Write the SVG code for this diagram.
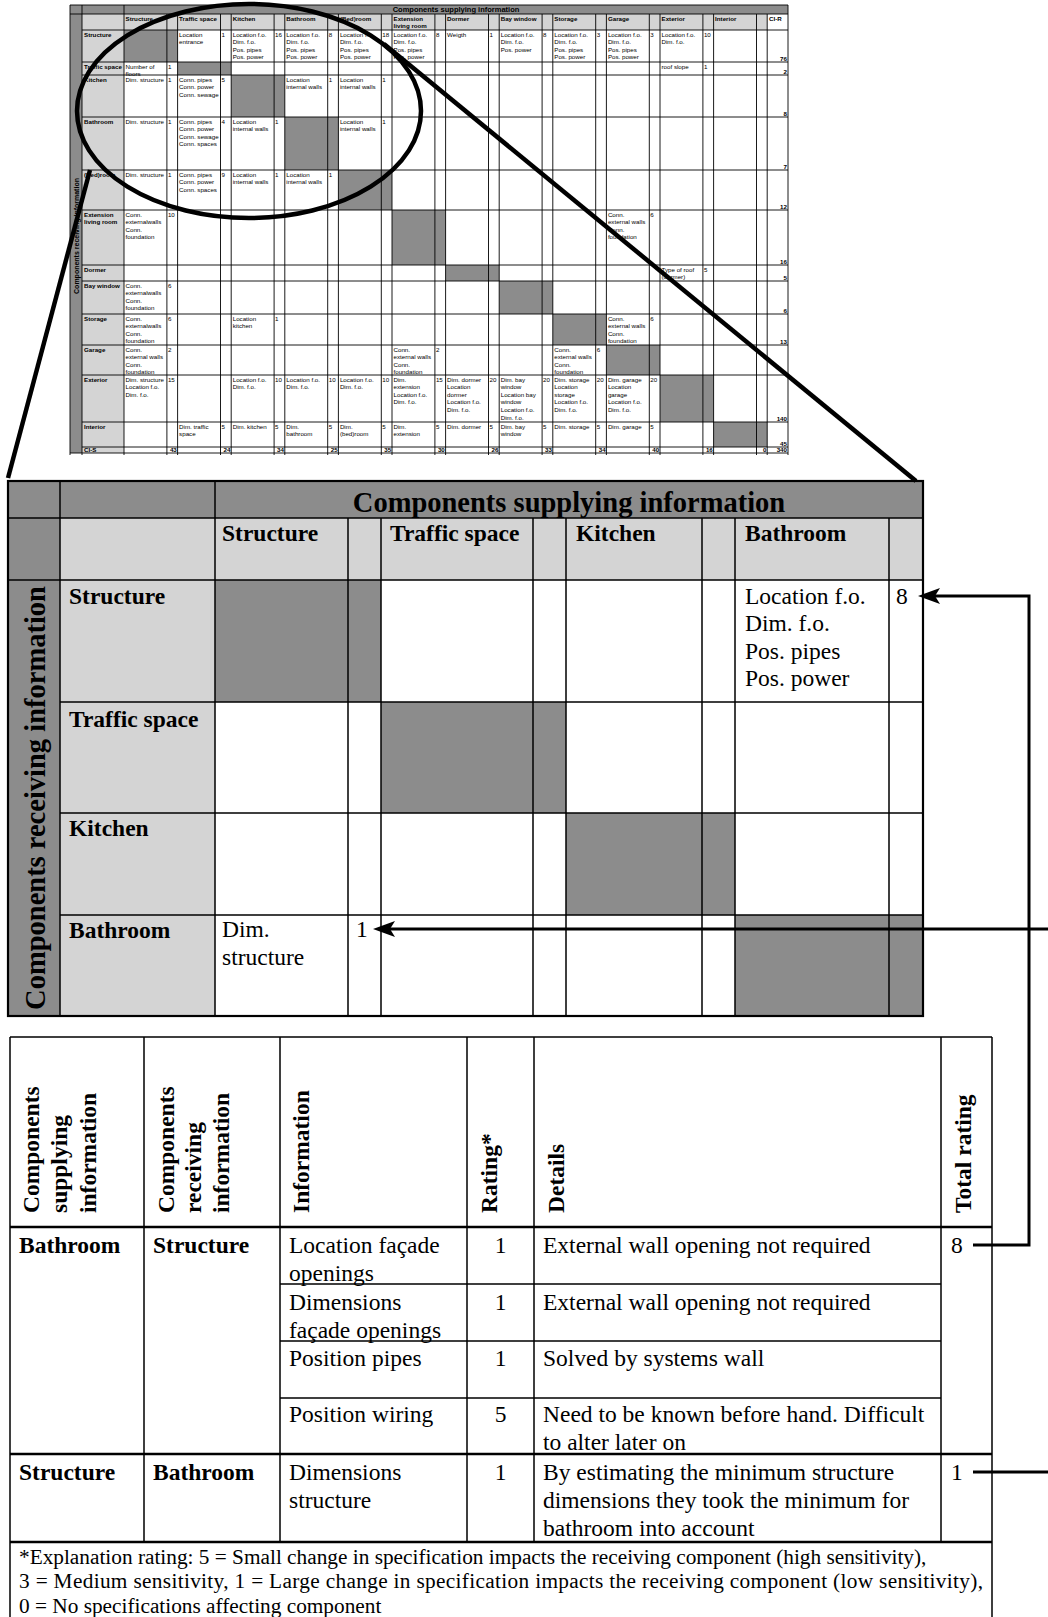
<svg xmlns="http://www.w3.org/2000/svg" width="1048" height="1617" viewBox="0 0 1048 1617">
<style>
.g{fill:#8c8c8c}
.l{fill:#d4d4d4}
.s{font-family:"Liberation Sans",Arial,sans-serif;font-size:6.2px;fill:#000}
.sb{font-family:"Liberation Sans",Arial,sans-serif;font-size:6.2px;font-weight:bold;fill:#000}
.st{font-family:"Liberation Sans",Arial,sans-serif;font-size:7.5px;font-weight:bold;fill:#000}
.t{font-family:"Liberation Serif","Times New Roman",serif;font-size:23.5px;fill:#000}
.tb{font-family:"Liberation Serif","Times New Roman",serif;font-size:23.5px;font-weight:bold;fill:#000}
.tt{font-family:"Liberation Serif","Times New Roman",serif;font-size:28.5px;font-weight:bold;fill:#000}
.fn{font-family:"Liberation Serif","Times New Roman",serif;font-size:21.3px;fill:#000}
.gl{stroke:#000;stroke-width:0.9;fill:none}
.bl{stroke:#000;stroke-width:1.5;fill:none}
.thk{stroke:#000;stroke-width:2.6;fill:none}
.zoom{stroke:#000;stroke-width:4.5;fill:none}
.arr{stroke:#000;stroke-width:3;fill:none}
</style>
<defs>
<marker id="ah" markerWidth="24" markerHeight="18" refX="16" refY="9" orient="auto" markerUnits="userSpaceOnUse">
<path d="M0,1 L22,9 L0,17 L5,9 z" fill="#000"/>
</marker>
</defs>
<rect width="1048" height="1617" fill="#fff"/>

<g id="small-matrix">
<rect class="g" x="70" y="5" width="718" height="9"/>
<rect class="g" x="70" y="14" width="12" height="439"/>
<rect class="l" x="82" y="14" width="685.2" height="16"/>
<rect class="l" x="82" y="30" width="42" height="423"/>
<rect class="g" x="124" y="30" width="53.6" height="32"/>
<rect class="g" x="177.6" y="62" width="53.6" height="13"/>
<rect class="g" x="231.2" y="75" width="53.6" height="42"/>
<rect class="g" x="284.8" y="117" width="53.6" height="53"/>
<rect class="g" x="338.4" y="170" width="53.6" height="40"/>
<rect class="g" x="392" y="210" width="53.6" height="55"/>
<rect class="g" x="445.6" y="265" width="53.6" height="16"/>
<rect class="g" x="499.2" y="281" width="53.6" height="33"/>
<rect class="g" x="552.8" y="314" width="53.6" height="31"/>
<rect class="g" x="606.4" y="345" width="53.6" height="30"/>
<rect class="g" x="660" y="375" width="53.6" height="47"/>
<rect class="g" x="713.6" y="422" width="53.6" height="25"/>
<path class="gl" d="M70,5H788M70,14H788M82,30H788M82,62H788M82,75H788M82,117H788M82,170H788M82,210H788M82,265H788M82,281H788M82,314H788M82,345H788M82,375H788M82,422H788M82,447H788M70,453H788M70,5V455M82,5V455M124,5V455M788,5V455M177.6,14V455M231.2,14V455M284.8,14V455M338.4,14V455M392,14V455M445.6,14V455M499.2,14V455M552.8,14V455M606.4,14V455M660,14V455M713.6,14V455M767.2,14V455M166.9,14V455M220.5,14V455M274.1,14V455M327.7,14V455M381.3,14V455M434.9,14V455M488.5,14V455M542.1,14V455M595.7,14V455M649.3,14V455M702.9,14V455M756.5,14V455"/>
<text class="st" x="456" y="12.3" text-anchor="middle">Components supplying information</text>
<text class="sb" style="font-size:7px" transform="translate(78.5,236) rotate(-90)" text-anchor="middle">Components receiving information</text>
<g class="sb">
<text x="125.5" y="20.5">Structure</text>
<text x="179.1" y="20.5">Traffic space</text>
<text x="232.7" y="20.5">Kitchen</text>
<text x="286.3" y="20.5">Bathroom</text>
<text x="339.9" y="20.5">(Bed)room</text>
<text x="393.5" y="20.5">Extension<tspan x="393.5" dy="7.6">living room</tspan></text>
<text x="447.1" y="20.5">Dormer</text>
<text x="500.7" y="20.5">Bay window</text>
<text x="554.3" y="20.5">Storage</text>
<text x="607.9" y="20.5">Garage</text>
<text x="661.5" y="20.5">Exterior</text>
<text x="715.1" y="20.5">Interior</text>
<text x="769" y="20.5">CI-R</text>
<text x="84" y="36.5">Structure</text>
<text x="84" y="68.5">Traffic space</text>
<text x="84" y="81.5">Kitchen</text>
<text x="84" y="123.5">Bathroom</text>
<text x="84" y="176.5">(Bed)room</text>
<text x="84" y="216.5">Extension<tspan x="84" dy="7.6">living room</tspan></text>
<text x="84" y="271.5">Dormer</text>
<text x="84" y="287.5">Bay window</text>
<text x="84" y="320.5">Storage</text>
<text x="84" y="351.5">Garage</text>
<text x="84" y="381.5">Exterior</text>
<text x="84" y="428.5">Interior</text>
<text x="84" y="452.3">CI-S</text>
</g>
<g class="sb" text-anchor="end">
<text x="787" y="60.5">76</text>
<text x="787" y="73.5">2</text>
<text x="787" y="115.5">8</text>
<text x="787" y="168.5">7</text>
<text x="787" y="208.5">12</text>
<text x="787" y="263.5">16</text>
<text x="787" y="279.5">5</text>
<text x="787" y="312.5">6</text>
<text x="787" y="343.5">13</text>
<text x="787" y="420.5">140</text>
<text x="787" y="445.5">45</text>
<text x="176.8" y="452.3">43</text>
<text x="230.4" y="452.3">24</text>
<text x="284" y="452.3">34</text>
<text x="337.6" y="452.3">25</text>
<text x="391.2" y="452.3">35</text>
<text x="444.8" y="452.3">30</text>
<text x="498.4" y="452.3">26</text>
<text x="552" y="452.3">33</text>
<text x="605.6" y="452.3">34</text>
<text x="659.2" y="452.3">40</text>
<text x="712.8" y="452.3">16</text>
<text x="766.4" y="452.3">0</text>
<text x="787" y="452.3">340</text>
</g>
<g class="s">
<text x="179.1" y="36.5">Location<tspan x="179.1" dy="7.6">entrance</tspan></text><text x="221.5" y="36.5">1</text>
<text x="232.7" y="36.5">Location f.o.<tspan x="232.7" dy="7.6">Dim. f.o.</tspan><tspan x="232.7" dy="7.6">Pos. pipes</tspan><tspan x="232.7" dy="7.6">Pos. power</tspan></text><text x="275.1" y="36.5">16</text>
<text x="286.3" y="36.5">Location f.o.<tspan x="286.3" dy="7.6">Dim. f.o.</tspan><tspan x="286.3" dy="7.6">Pos. pipes</tspan><tspan x="286.3" dy="7.6">Pos. power</tspan></text><text x="328.7" y="36.5">8</text>
<text x="339.9" y="36.5">Location f.o.<tspan x="339.9" dy="7.6">Dim. f.o.</tspan><tspan x="339.9" dy="7.6">Pos. pipes</tspan><tspan x="339.9" dy="7.6">Pos. power</tspan></text><text x="382.3" y="36.5">18</text>
<text x="393.5" y="36.5">Location f.o.<tspan x="393.5" dy="7.6">Dim. f.o.</tspan><tspan x="393.5" dy="7.6">Pos. pipes</tspan><tspan x="393.5" dy="7.6">Pos. power</tspan></text><text x="435.9" y="36.5">8</text>
<text x="447.1" y="36.5">Weigth</text><text x="489.5" y="36.5">1</text>
<text x="500.7" y="36.5">Location f.o.<tspan x="500.7" dy="7.6">Dim. f.o.</tspan><tspan x="500.7" dy="7.6">Pos. power</tspan></text><text x="543.1" y="36.5">8</text>
<text x="554.3" y="36.5">Location f.o.<tspan x="554.3" dy="7.6">Dim. f.o.</tspan><tspan x="554.3" dy="7.6">Pos. pipes</tspan><tspan x="554.3" dy="7.6">Pos. power</tspan></text><text x="596.7" y="36.5">3</text>
<text x="607.9" y="36.5">Location f.o.<tspan x="607.9" dy="7.6">Dim. f.o.</tspan><tspan x="607.9" dy="7.6">Pos. pipes</tspan><tspan x="607.9" dy="7.6">Pos. power</tspan></text><text x="650.3" y="36.5">3</text>
<text x="661.5" y="36.5">Location f.o.<tspan x="661.5" dy="7.6">Dim. f.o.</tspan></text><text x="703.9" y="36.5">10</text>
<text x="125.5" y="68.5">Number of<tspan x="125.5" dy="7.6">floors</tspan></text><text x="167.9" y="68.5">1</text>
<text x="661.5" y="68.5">roof slope</text><text x="703.9" y="68.5">1</text>
<text x="125.5" y="81.5">Dim. structure</text><text x="167.9" y="81.5">1</text>
<text x="179.1" y="81.5">Conn. pipes<tspan x="179.1" dy="7.6">Conn. power</tspan><tspan x="179.1" dy="7.6">Conn. sewage</tspan></text><text x="221.5" y="81.5">5</text>
<text x="286.3" y="81.5">Location<tspan x="286.3" dy="7.6">internal walls</tspan></text><text x="328.7" y="81.5">1</text>
<text x="339.9" y="81.5">Location<tspan x="339.9" dy="7.6">internal walls</tspan></text><text x="382.3" y="81.5">1</text>
<text x="125.5" y="123.5">Dim. structure</text><text x="167.9" y="123.5">1</text>
<text x="179.1" y="123.5">Conn. pipes<tspan x="179.1" dy="7.6">Conn. power</tspan><tspan x="179.1" dy="7.6">Conn. sewage</tspan><tspan x="179.1" dy="7.6">Conn. spaces</tspan></text><text x="221.5" y="123.5">4</text>
<text x="232.7" y="123.5">Location<tspan x="232.7" dy="7.6">internal walls</tspan></text><text x="275.1" y="123.5">1</text>
<text x="339.9" y="123.5">Location<tspan x="339.9" dy="7.6">internal walls</tspan></text><text x="382.3" y="123.5">1</text>
<text x="125.5" y="176.5">Dim. structure</text><text x="167.9" y="176.5">1</text>
<text x="179.1" y="176.5">Conn. pipes<tspan x="179.1" dy="7.6">Conn. power</tspan><tspan x="179.1" dy="7.6">Conn. spaces</tspan></text><text x="221.5" y="176.5">9</text>
<text x="232.7" y="176.5">Location<tspan x="232.7" dy="7.6">internal walls</tspan></text><text x="275.1" y="176.5">1</text>
<text x="286.3" y="176.5">Location<tspan x="286.3" dy="7.6">internal walls</tspan></text><text x="328.7" y="176.5">1</text>
<text x="125.5" y="216.5">Conn.<tspan x="125.5" dy="7.6">externalwalls</tspan><tspan x="125.5" dy="7.6">Conn.</tspan><tspan x="125.5" dy="7.6">foundation</tspan></text><text x="167.9" y="216.5">10</text>
<text x="607.9" y="216.5">Conn.<tspan x="607.9" dy="7.6">external walls</tspan><tspan x="607.9" dy="7.6">Conn.</tspan><tspan x="607.9" dy="7.6">foundation</tspan></text><text x="650.3" y="216.5">6</text>
<text x="661.5" y="271.5">Type of roof<tspan x="661.5" dy="7.6">(dormer)</tspan></text><text x="703.9" y="271.5">5</text>
<text x="125.5" y="287.5">Conn.<tspan x="125.5" dy="7.6">externalwalls</tspan><tspan x="125.5" dy="7.6">Conn.</tspan><tspan x="125.5" dy="7.6">foundation</tspan></text><text x="167.9" y="287.5">6</text>
<text x="125.5" y="320.5">Conn.<tspan x="125.5" dy="7.6">externalwalls</tspan><tspan x="125.5" dy="7.6">Conn.</tspan><tspan x="125.5" dy="7.6">foundation</tspan></text><text x="167.9" y="320.5">6</text>
<text x="232.7" y="320.5">Location<tspan x="232.7" dy="7.6">kitchen</tspan></text><text x="275.1" y="320.5">1</text>
<text x="607.9" y="320.5">Conn.<tspan x="607.9" dy="7.6">external walls</tspan><tspan x="607.9" dy="7.6">Conn.</tspan><tspan x="607.9" dy="7.6">foundation</tspan></text><text x="650.3" y="320.5">6</text>
<text x="125.5" y="351.5">Conn.<tspan x="125.5" dy="7.6">external walls</tspan><tspan x="125.5" dy="7.6">Conn.</tspan><tspan x="125.5" dy="7.6">foundation</tspan></text><text x="167.9" y="351.5">2</text>
<text x="393.5" y="351.5">Conn.<tspan x="393.5" dy="7.6">external walls</tspan><tspan x="393.5" dy="7.6">Conn.</tspan><tspan x="393.5" dy="7.6">foundation</tspan></text><text x="435.9" y="351.5">2</text>
<text x="554.3" y="351.5">Conn.<tspan x="554.3" dy="7.6">external walls</tspan><tspan x="554.3" dy="7.6">Conn.</tspan><tspan x="554.3" dy="7.6">foundation</tspan></text><text x="596.7" y="351.5">6</text>
<text x="125.5" y="381.5">Dim. structure<tspan x="125.5" dy="7.6">Location f.o.</tspan><tspan x="125.5" dy="7.6">Dim. f.o.</tspan></text><text x="167.9" y="381.5">15</text>
<text x="232.7" y="381.5">Location f.o.<tspan x="232.7" dy="7.6">Dim. f.o.</tspan></text><text x="275.1" y="381.5">10</text>
<text x="286.3" y="381.5">Location f.o.<tspan x="286.3" dy="7.6">Dim. f.o.</tspan></text><text x="328.7" y="381.5">10</text>
<text x="339.9" y="381.5">Location f.o.<tspan x="339.9" dy="7.6">Dim. f.o.</tspan></text><text x="382.3" y="381.5">10</text>
<text x="393.5" y="381.5">Dim.<tspan x="393.5" dy="7.6">extension</tspan><tspan x="393.5" dy="7.6">Location f.o.</tspan><tspan x="393.5" dy="7.6">Dim. f.o.</tspan></text><text x="435.9" y="381.5">15</text>
<text x="447.1" y="381.5">Dim. dormer<tspan x="447.1" dy="7.6">Location</tspan><tspan x="447.1" dy="7.6">dormer</tspan><tspan x="447.1" dy="7.6">Location f.o.</tspan><tspan x="447.1" dy="7.6">Dim. f.o.</tspan></text><text x="489.5" y="381.5">20</text>
<text x="500.7" y="381.5">Dim. bay<tspan x="500.7" dy="7.6">window</tspan><tspan x="500.7" dy="7.6">Location bay</tspan><tspan x="500.7" dy="7.6">window</tspan><tspan x="500.7" dy="7.6">Location f.o.</tspan><tspan x="500.7" dy="7.6">Dim. f.o.</tspan></text><text x="543.1" y="381.5">20</text>
<text x="554.3" y="381.5">Dim. storage<tspan x="554.3" dy="7.6">Location</tspan><tspan x="554.3" dy="7.6">storage</tspan><tspan x="554.3" dy="7.6">Location f.o.</tspan><tspan x="554.3" dy="7.6">Dim. f.o.</tspan></text><text x="596.7" y="381.5">20</text>
<text x="607.9" y="381.5">Dim. garage<tspan x="607.9" dy="7.6">Location</tspan><tspan x="607.9" dy="7.6">garage</tspan><tspan x="607.9" dy="7.6">Location f.o.</tspan><tspan x="607.9" dy="7.6">Dim. f.o.</tspan></text><text x="650.3" y="381.5">20</text>
<text x="179.1" y="428.5">Dim. traffic<tspan x="179.1" dy="7.6">space</tspan></text><text x="221.5" y="428.5">5</text>
<text x="232.7" y="428.5">Dim. kitchen</text><text x="275.1" y="428.5">5</text>
<text x="286.3" y="428.5">Dim.<tspan x="286.3" dy="7.6">bathroom</tspan></text><text x="328.7" y="428.5">5</text>
<text x="339.9" y="428.5">Dim.<tspan x="339.9" dy="7.6">(bed)room</tspan></text><text x="382.3" y="428.5">5</text>
<text x="393.5" y="428.5">Dim.<tspan x="393.5" dy="7.6">extension</tspan></text><text x="435.9" y="428.5">5</text>
<text x="447.1" y="428.5">Dim. dormer</text><text x="489.5" y="428.5">5</text>
<text x="500.7" y="428.5">Dim. bay<tspan x="500.7" dy="7.6">window</tspan></text><text x="543.1" y="428.5">5</text>
<text x="554.3" y="428.5">Dim. storage</text><text x="596.7" y="428.5">5</text>
<text x="607.9" y="428.5">Dim. garage</text><text x="650.3" y="428.5">5</text>
</g>
</g>

<g id="zoom-matrix">
<rect class="g" x="8" y="481" width="52" height="535"/>
<rect class="g" x="60" y="481" width="863" height="37"/>
<rect class="l" x="60" y="518" width="863" height="62"/>
<rect class="l" x="60" y="580" width="155" height="436"/>
<rect class="g" x="215" y="580" width="166" height="122"/>
<rect class="g" x="381" y="702" width="185" height="111"/>
<rect class="g" x="566" y="813" width="169" height="102"/>
<rect class="g" x="735" y="915" width="188" height="101"/>
<path class="bl" d="M8,518H923M8,580H923M60,702H923M60,813H923M60,915H923M60,481V1016M215,481V1016M348,518V1016M381,518V1016M533,518V1016M566,518V1016M702,518V1016M735,518V1016M889,518V1016"/>
<rect x="8" y="481" width="915" height="535" fill="none" stroke="#000" stroke-width="2.2"/>
<text class="tt" x="569" y="512" text-anchor="middle">Components supplying information</text>
<text class="tt" transform="translate(45,798) rotate(-90)" text-anchor="middle">Components receiving information</text>
<text class="tb" x="222" y="541">Structure</text>
<text class="tb" x="390" y="541">Traffic space</text>
<text class="tb" x="576" y="541">Kitchen</text>
<text class="tb" x="745" y="541">Bathroom</text>
<text class="tb" x="69" y="604">Structure</text>
<text class="tb" x="69" y="727">Traffic space</text>
<text class="tb" x="69" y="836">Kitchen</text>
<text class="tb" x="69" y="938">Bathroom</text>
<text class="t" x="745" y="604">Location f.o.<tspan x="745" dy="27.3">Dim. f.o.</tspan><tspan x="745" dy="27.3">Pos. pipes</tspan><tspan x="745" dy="27.3">Pos. power</tspan></text>
<text class="t" x="896" y="604">8</text>
<text class="t" x="222" y="937">Dim.<tspan x="222" dy="28">structure</tspan></text>
<text class="t" x="356" y="937">1</text>
</g>

<g id="detail-table">
<path class="bl" d="M10,1037H992M10,1037V1617M992,1037V1617M144,1037V1542M280,1037V1542M467,1037V1542M534,1037V1542M941,1037V1542M280,1284H941M280,1341H941M280,1398H941"/>
<path class="thk" d="M10,1227H992M10,1454H992M10,1542H992"/>
<g class="tb">
<text transform="translate(39,1213) rotate(-90)">Components</text>
<text transform="translate(67,1213) rotate(-90)">supplying</text>
<text transform="translate(96,1213) rotate(-90)">information</text>
<text transform="translate(174,1213) rotate(-90)">Components</text>
<text transform="translate(201,1213) rotate(-90)">receiving</text>
<text transform="translate(229,1213) rotate(-90)">information</text>
<text transform="translate(309,1213) rotate(-90)">Information</text>
<text transform="translate(497,1213) rotate(-90)">Rating*</text>
<text transform="translate(564,1213) rotate(-90)">Details</text>
<text transform="translate(971,1213) rotate(-90)">Total rating</text>
<text x="19" y="1253">Bathroom</text>
<text x="153" y="1253">Structure</text>
<text x="19" y="1480">Structure</text>
<text x="153" y="1480">Bathroom</text>
</g>
<g class="t">
<text x="289" y="1253">Location façade<tspan x="289" dy="28">openings</tspan></text>
<text x="500.5" y="1253" text-anchor="middle">1</text>
<text x="543" y="1253">External wall opening not required</text>
<text x="951" y="1253">8</text>
<text x="289" y="1310">Dimensions<tspan x="289" dy="28">façade openings</tspan></text>
<text x="500.5" y="1310" text-anchor="middle">1</text>
<text x="543" y="1310">External wall opening not required</text>
<text x="289" y="1366">Position pipes</text>
<text x="500.5" y="1366" text-anchor="middle">1</text>
<text x="543" y="1366">Solved by systems wall</text>
<text x="289" y="1422">Position wiring</text>
<text x="500.5" y="1422" text-anchor="middle">5</text>
<text x="543" y="1422">Need to be known before hand. Difficult<tspan x="543" dy="28">to alter later on</tspan></text>
<text x="289" y="1480">Dimensions<tspan x="289" dy="28">structure</tspan></text>
<text x="500.5" y="1480" text-anchor="middle">1</text>
<text x="543" y="1480">By estimating the minimum structure<tspan x="543" dy="28">dimensions they took the minimum for</tspan><tspan x="543" dy="28">bathroom into account</tspan></text>
<text x="951" y="1480">1</text>
</g>
<g class="fn">
<text x="19" y="1564">*Explanation rating: 5 = Small change in specification impacts the receiving component (high sensitivity),</text>
<text x="19" y="1588" textLength="964" lengthAdjust="spacing">3 = Medium sensitivity, 1 = Large change in specification impacts the receiving component (low sensitivity),</text>
<text x="19" y="1613">0 = No specifications affecting component</text>
</g>
</g>

<g id="connectors">
<ellipse class="zoom" cx="249" cy="111" rx="172" ry="107"/>
<path class="zoom" d="M90,170L8,478"/>
<path class="zoom" d="M384,44L916,481"/>
<path class="arr" d="M973,1245H1029V596H924" marker-end="url(#ah)"/>
<path class="arr" d="M973,1472H1062V929H379" marker-end="url(#ah)"/>
</g>
</svg>
